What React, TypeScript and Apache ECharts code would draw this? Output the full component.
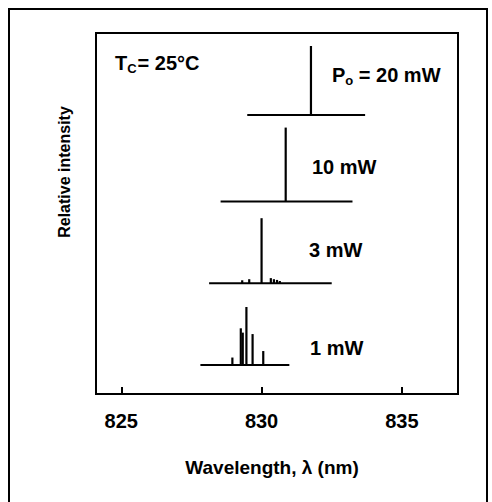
import React, { useEffect, useRef } from "react";
import * as echarts from "echarts";

// ---- data ----
const wavelengthTicks = [825, 830, 835];
const xMin = 824.1;
const xMax = 837.0;

const powerLabels = ["20 mW", "10 mW", "3 mW", "1 mW"];
const baselineLevels = [77.3, 53.3, 30.7, 8.0];
const baselineStart = [829.49, 828.54, 828.13, 827.82];
const baselineEnd = [833.69, 833.24, 832.5, 830.99];

// [wavelength, relative peak height above the baseline]
const peaks20mW = [[831.76, 19.1]];
const peaks10mW = [[830.86, 20.5]];
const peaks3mW = [
  [829.31, 0.8],
  [829.56, 1.1],
  [830.0, 18.0],
  [830.33, 1.4],
  [830.44, 1.1],
  [830.55, 0.9],
  [830.65, 0.6],
];
const peaks1mW = [
  [828.96, 2.1],
  [829.26, 10.2],
  [829.33, 9.0],
  [829.46, 16.1],
  [829.68, 8.6],
  [830.06, 3.9],
];
const allPeaks = [peaks20mW, peaks10mW, peaks3mW, peaks1mW];

const FONT = "'Liberation Sans', Arial, Helvetica, sans-serif";

export default function App() {
  const ref = useRef<HTMLDivElement>(null);

  useEffect(() => {
    if (!ref.current) return;
    const chart = echarts.init(ref.current, undefined, { renderer: "svg" });

    const series: any[] = [];
    powerLabels.forEach((name, i) => {
      series.push({
        name: name + " baseline",
        type: "line",
        data: [
          [baselineStart[i], baselineLevels[i]],
          [baselineEnd[i], baselineLevels[i]],
        ],
        symbol: "none",
        lineStyle: { color: "#000", width: 2 },
        silent: true,
      });
      series.push({
        name: name,
        type: "custom",
        encode: { x: 0, y: 1 },
        data: allPeaks[i].map((p) => [p[0], baselineLevels[i], p[1]]),
        renderItem: (params: any, api: any) => {
          const lam = api.value(0);
          const base = api.value(1);
          const h = api.value(2);
          const p0 = api.coord([lam, base]);
          const p1 = api.coord([lam, base + h]);
          return {
            type: "line",
            shape: { x1: p0[0], y1: p0[1], x2: p1[0], y2: p1[1] },
            style: { stroke: "#000", lineWidth: 2.2 },
          };
        },
      });
    });

    const annotation = (text: string, x: number, y: number) => ({
      type: "text",
      x,
      y,
      style: {
        text,
        fill: "#000",
        font: `bold 20px ${FONT}`,
        textVerticalAlign: "middle",
      },
    });

    chart.setOption({
      animation: false,
      backgroundColor: "#fff",
      grid: {
        left: 96,
        top: 33,
        width: 362,
        height: 361,
        show: true,
        borderColor: "#000",
        borderWidth: 2,
        backgroundColor: "transparent",
      },
      xAxis: {
        type: "value",
        min: xMin,
        max: xMax,
        splitLine: { show: false },
        axisLine: { show: true, lineStyle: { color: "#000", width: 2 } },
        axisTick: {
          show: true,
          inside: true,
          length: 7,
          customValues: wavelengthTicks,
          lineStyle: { color: "#000", width: 2 },
        },
        axisLabel: {
          customValues: wavelengthTicks,
          margin: 17,
          color: "#000",
          fontSize: 20,
          fontWeight: "bold",
          fontFamily: FONT,
        },
      },
      yAxis: {
        type: "value",
        min: 0,
        max: 100,
        axisLine: { show: false },
        axisTick: { show: false },
        axisLabel: { show: false },
        splitLine: { show: false },
      },
      series,
      graphic: [
        {
          type: "rect",
          shape: { x: 9, y: 9, width: 478, height: 520 },
          style: { fill: "none", stroke: "#000", lineWidth: 2 },
          silent: true,
        },
        {
          type: "text",
          x: 115,
          y: 63,
          style: {
            text: "{m|T}{s|C}{m|= 25°C}",
            fill: "#000",
            textVerticalAlign: "middle",
            rich: {
              m: { font: `bold 20px ${FONT}`, fill: "#000" },
              s: {
                font: `bold 13px ${FONT}`,
                fill: "#000",
                padding: [11, 1, 0, 0],
              },
            },
          },
        },
        {
          type: "text",
          x: 332,
          y: 75,
          style: {
            text: "{m|P}{s|o}{m| = 20 mW}",
            fill: "#000",
            textVerticalAlign: "middle",
            rich: {
              m: { font: `bold 20px ${FONT}`, fill: "#000" },
              s: {
                font: `bold 13px ${FONT}`,
                fill: "#000",
                padding: [11, 0, 0, 0],
              },
            },
          },
        },
        annotation(powerLabels[1], 312, 167),
        annotation(powerLabels[2], 309, 250),
        annotation(powerLabels[3], 310, 348),
        {
          type: "text",
          x: 64,
          y: 172,
          rotation: Math.PI / 2,
          style: {
            text: "Relative intensity",
            fill: "#000",
            font: `bold 16px ${FONT}`,
            textAlign: "center",
            textVerticalAlign: "middle",
          },
        },
        {
          type: "text",
          x: 272,
          y: 467,
          style: {
            text: "Wavelength, λ (nm)",
            fill: "#000",
            font: `bold 19px ${FONT}`,
            textAlign: "center",
            textVerticalAlign: "middle",
          },
        },
      ],
    });

    return () => chart.dispose();
  }, []);

  return (
    <div
      ref={ref}
      style={{
        position: "fixed",
        left: 0,
        top: 0,
        width: 492,
        height: 502,
        background: "#fff",
      }}
    />
  );
}
